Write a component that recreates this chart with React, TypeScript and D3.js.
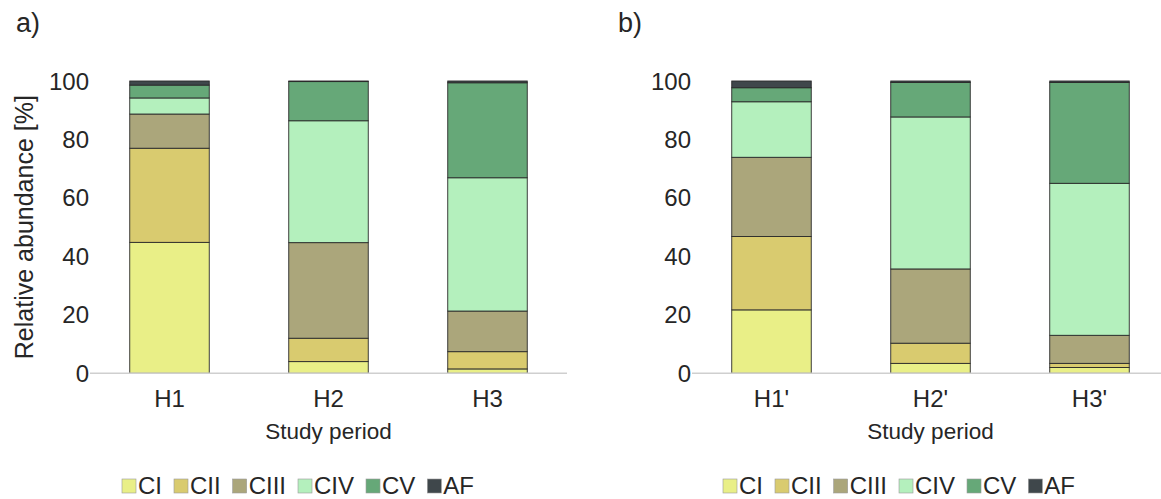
import React from "react";
import * as d3 from "d3";

// Developmental stages (stack order, bottom to top)
const stages = ["CI", "CII", "CIII", "CIV", "CV", "AF"];
const stageColors = ["#e9ef87", "#d9cb6f", "#aba67b", "#b4f0bd", "#66a878", "#3f474b"];

// Study periods per panel
const periodsA = ["H1", "H2", "H3"];
const periodsB = ["H1'", "H2'", "H3'"];

// Relative abundance [%] per stage, panel a
const ciA = [44.8, 4.0, 1.5];
const ciiA = [32.2, 8.0, 5.9];
const ciiiA = [11.7, 32.7, 13.9];
const civA = [5.5, 41.7, 45.6];
const cvA = [4.4, 13.4, 32.5];
const afA = [1.4, 0.2, 0.6];

// Relative abundance [%] per stage, panel b
const ciB = [21.7, 3.4, 2.0];
const ciiB = [25.1, 6.9, 1.4];
const ciiiB = [27.1, 25.4, 9.6];
const civB = [19.0, 52.0, 52.0];
const cvB = [4.8, 11.8, 34.5];
const afB = [2.3, 0.5, 0.5];

const yTicks = [0, 20, 40, 60, 80, 100];

const W = 1161;
const H = 499;
const FONT = "'Liberation Sans', Arial, sans-serif";
const TEXT = "#262626";

function buildRows(periods: string[], series: number[][]) {
  return periods.map((p, i) => {
    const row: Record<string, any> = { period: p };
    stages.forEach((s, k) => (row[s] = series[k][i]));
    return row;
  });
}

const rowsA = buildRows(periodsA, [ciA, ciiA, ciiiA, civA, cvA, afA]);
const rowsB = buildRows(periodsB, [ciB, ciiB, ciiiB, civB, cvB, afB]);

let measureCtx: CanvasRenderingContext2D | null = null;
function textWidth(t: string, size: number) {
  if (!measureCtx) measureCtx = document.createElement("canvas").getContext("2d");
  if (!measureCtx) return t.length * size * 0.6;
  measureCtx.font = `${size}px 'Liberation Sans', Arial, sans-serif`;
  return measureCtx.measureText(t).width;
}

const y = d3.scaleLinear().domain([0, 100]).range([373.3, 81]);

function Legend({ x0 }: { x0: number }) {
  const size = 24;
  let x = x0;
  const items = stages.map((s, i) => {
    const item = { s, color: stageColors[i], x };
    x += 16 + textWidth(s, size) + 12;
    return item;
  });
  return (
    <g>
      {items.map((it) => (
        <g key={it.s}>
          <rect x={it.x} y={479} width={14} height={14} fill={it.color} stroke="#9a9a9a" strokeWidth={0.6} />
          <text x={it.x + 16} y={494} fontSize={size} fontFamily={FONT} fill={TEXT}>
            {it.s}
          </text>
        </g>
      ))}
    </g>
  );
}

function Panel({
  rows,
  periods,
  x0,
  x1,
  axisEnd,
  tag,
  yTitle,
}: {
  rows: any[];
  periods: string[];
  x0: number;
  x1: number;
  axisEnd: number;
  tag: string;
  yTitle?: string;
}) {
  const x = d3.scaleBand().domain(periods).range([x0, x1]).paddingInner(0.5).paddingOuter(0.25);
  const stacked = d3.stack<any>().keys(stages)(rows);
  const mid = (x0 + x1) / 2;
  return (
    <g>
      <text x={x0 - 74} y={32} fontSize={27} fontFamily={FONT} fill={TEXT}>
        {tag}
      </text>
      {yTitle && (
        <text
          transform={`translate(24,${(y(0) + y(100)) / 2}) rotate(-90)`}
          textAnchor="middle"
          dominantBaseline="central"
          fontSize={25}
          fontFamily={FONT}
          fill={TEXT}
        >
          {yTitle}
        </text>
      )}
      {yTicks.map((t) => (
        <text
          key={t}
          x={x0 - 1}
          y={y(t)}
          textAnchor="end"
          dominantBaseline="central"
          fontSize={24}
          fontFamily={FONT}
          fill={TEXT}
        >
          {t}
        </text>
      ))}
      {stacked.map((layer, k) => (
        <g key={layer.key} fill={stageColors[k]}>
          {layer.map((d: any) => (
            <rect
              key={d.data.period}
              x={x(d.data.period)}
              width={x.bandwidth()}
              y={y(d[1])}
              height={Math.max(0, y(d[0]) - y(d[1]))}
              stroke="#2a2a2a"
              strokeWidth={0.9}
            />
          ))}
        </g>
      ))}
      <line x1={x0} x2={axisEnd} y1={y(0)} y2={y(0)} stroke="#cfcfcf" strokeWidth={1.6} />
      {periods.map((p) => (
        <text
          key={p}
          x={(x(p) as number) + x.bandwidth() / 2}
          y={407}
          textAnchor="middle"
          fontSize={24}
          fontFamily={FONT}
          fill={TEXT}
        >
          {p}
        </text>
      ))}
      <text x={mid} y={439} textAnchor="middle" fontSize={22.5} fontFamily={FONT} fill={TEXT}>
        Study period
      </text>
    </g>
  );
}

export default function App() {
  return (
    <svg
      width={W}
      height={H}
      style={{ position: "absolute", left: 0, top: 0, background: "#ffffff" }}
    >
      <rect width={W} height={H} fill="#ffffff" />
      <Panel rows={rowsA} periods={periodsA} x0={90} x1={567} axisEnd={567} tag="a)" yTitle="Relative abundance [%]" />
      <Panel rows={rowsB} periods={periodsB} x0={692} x1={1169} axisEnd={1161} tag="b)" />
      <Legend x0={122} />
      <Legend x0={723} />
    </svg>
  );
}
